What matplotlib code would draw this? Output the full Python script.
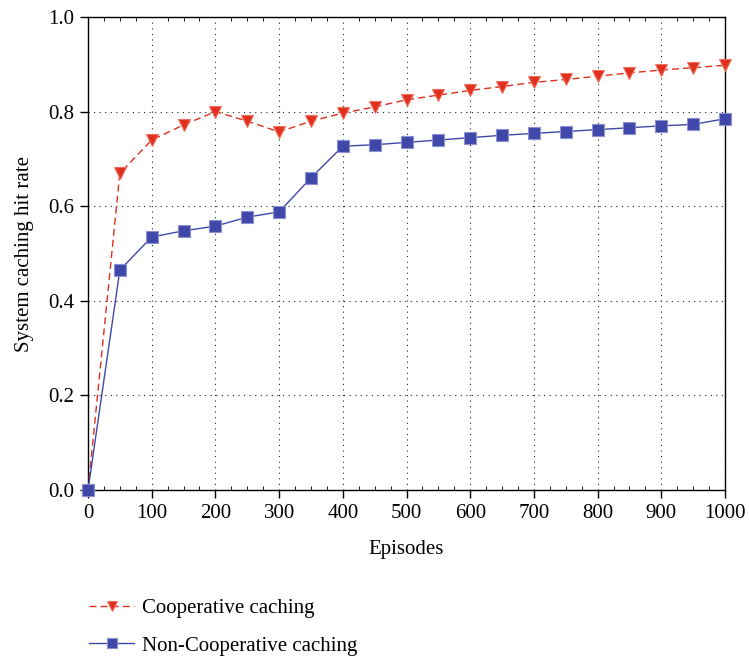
import matplotlib
matplotlib.use("Agg")
import matplotlib.pyplot as plt
from matplotlib.ticker import MultipleLocator

plt.rcParams['font.family'] = ['Liberation Serif', 'DejaVu Serif']

episodes = [0, 50, 100, 150, 200, 250, 300, 350, 400, 450, 500, 550, 600, 650, 700, 750, 800, 850, 900, 950, 1000]
coop = [0.0, 0.67, 0.74, 0.772, 0.80, 0.78, 0.757, 0.78, 0.797, 0.81, 0.825, 0.835, 0.845, 0.853, 0.862, 0.868, 0.875, 0.882, 0.888, 0.893, 0.898]
noncoop = [0.0, 0.465, 0.535, 0.548, 0.558, 0.577, 0.588, 0.66, 0.727, 0.730, 0.735, 0.740, 0.745, 0.750, 0.754, 0.758, 0.762, 0.766, 0.770, 0.773, 0.785]

fig = plt.figure(figsize=(7.49, 6.56), dpi=100)
ax = fig.add_axes([0.1175, 0.253, 0.8505, 0.721])

ax.plot(episodes, coop, color='#e0301e', linestyle=(0, (5, 3)), linewidth=1.0,
        marker='v', markersize=9, markerfacecolor='#e0301e', markeredgecolor='#f07060',
        markeredgewidth=0.8, label='Cooperative caching', clip_on=False, zorder=3)
ax.plot(episodes, noncoop, color='#3f48a8', linestyle='-', linewidth=1.0,
        marker='s', markersize=9, markerfacecolor='#3f48a8', markeredgecolor='#8a90d0',
        markeredgewidth=0.8, label='Non-Cooperative caching', clip_on=False, zorder=3)

ax.set_xlim(0, 1000)
ax.set_ylim(0, 1.0)
ax.xaxis.set_major_locator(MultipleLocator(100))
ax.xaxis.set_minor_locator(MultipleLocator(25))
ax.set_yticks([0.0, 0.2, 0.4, 0.6, 0.8, 1.0])
ax.set_yticklabels(['0.0', '0.2', '0.4', '0.6', '0.8', '1.0'])

ax.grid(True, which='major', linestyle=(0, (1, 4)), color='#222222', linewidth=0.8)
ax.tick_params(axis='both', which='major', direction='out', length=6, labelsize=15, width=1, pad=4)
ax.tick_params(axis='x', which='minor', direction='in', length=3, top=True, bottom=True)
ax.tick_params(axis='x', which='major', top=False)
for s in ax.spines.values():
    s.set_linewidth(1.0)

ax.set_xlabel('Episodes', fontsize=15, labelpad=12)
ax.set_ylabel('System caching hit rate', fontsize=15, labelpad=10)

handles, labels = ax.get_legend_handles_labels()
fig.legend(handles, labels, loc='upper left', bbox_to_anchor=(0.094, 0.116),
           frameon=False, fontsize=15, handlelength=2.15, handletextpad=0.4,
           labelspacing=0.85, markerscale=0.75)

fig.savefig('out.png', dpi=100)
